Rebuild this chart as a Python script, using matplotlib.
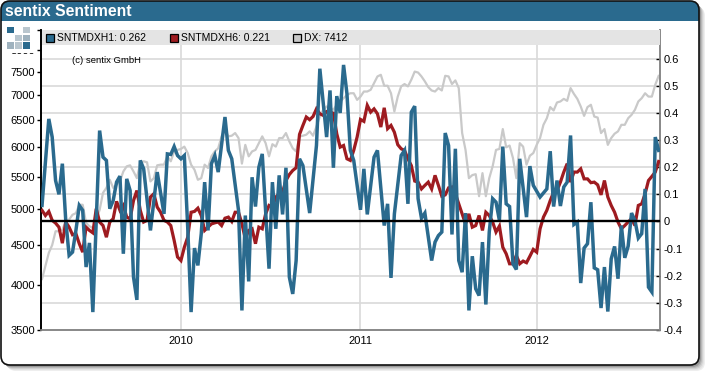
import matplotlib
matplotlib.use("Agg")
import matplotlib.pyplot as plt
from matplotlib.patches import FancyBboxPatch, Rectangle
from matplotlib.ticker import FixedLocator, FixedFormatter, NullLocator
from matplotlib.transforms import blended_transform_factory

plt.rcParams["font.family"] = ["Liberation Sans", "DejaVu Sans"]

## Data ---------------------------------------

blue_weeks = [0,2,3,4,5,6,7,8,9,10,11,12,13,14,15,16,17,18,19,20,21,22,23,24,25,26,27,28,29,30,32,34,36,37,38,39,40,41,42,43,44,45,46,47,48,49,50,51,52,54,55,56,58,59,60,61,
              62,63,64,65,67,68,69,70,71,72,73,74,75,76,77,79,81,82,84,85,86,87,88,89,90,91,92,94,95,96,98,99,101,102,103,104,106,107,108,109,110,111,112,113,115,116,117,118,119,120,121,122,
              123,124,125,126,127,128,129,130,131,132,133,134,135,136,137,138,139,140,141,143,144,145,147,149,150,151,152,153,154,155,156,157,158,159,160,161,162,163,164,165,166,167,168,169,170,171,172,173,174,175,176,177,178,179,180,181,182]
sntmdxh1 = [.059,.378,.311,.151,.100,.213,.004,-.125,-.113,-.033,.059,.041,-.168,-.079,-.334,.004,.335,.237,.225,.047,.077,.145,.167,-.119,.157,.114,-.205,-.289,.225,.194,-.033,.182,.028,.249,.247,.276,.243,.231,.243,-.021,-.334,-.098,-.162,-.045,.145,-.033,.213,.243,.182,.385,.262,.231,.041,-.328,.022,-.221,
            .163,.055,.200,.249,-.174,.145,-.027,.170,.026,.198,-.205,-.267,-.144,.231,.206,.031,.280,.563,.311,.483,.198,.462,.400,.577,.471,.262,.225,.043,.194,.026,.237,.262,-.015,.065,-.208,.028,.243,.262,.065,.403,.425,.084,.012,.031,-.144,-.076,-.052,-.039,.326,.280,-.048,.268,
            -.144,-.187,.031,-.328,-.128,-.248,-.273,-.076,-.306,-.039,.084,.071,.004,.276,.065,.055,-.156,-.177,.231,.016,.204,.133,.090,.120,.259,.055,.151,.057,.127,.145,.317,-.011,-.002,-.227,-.098,-.082,.071,-.171,-.178,-.319,-.168,-.332,-.138,-.092,-.211,-.015,-.134,-.091,.031,.004,-.061,-.045,.120,-.242,-.260,.311,.262]

sntmdxh6 = [.041,.022,.037,.004,-.006,-.021,-.080,-.002,-.021,-.049,-.045,-.082,-.113,-.021,-.033,-.042,.047,-.002,-.015,-.058,-.002,.010,.074,.041,.059,.016,.010,.077,.114,.041,-.002,.004,.090,.102,.053,.034,.004,-.002,-.015,-.070,-.131,-.144,-.095,-.058,.034,.037,.049,.022,-.033,-.021,-.009,-.005,-.002,-.015,.012,.016,0,.034,.034,-.009,-.064,-.033,
            -.027,-.082,-.021,-.027,.028,.059,.053,.090,.102,.108,.151,.173,.188,.198,.321,.354,.385,.375,.387,.415,.397,.391,.405,.403,.399,.323,.274,.280,.231,.225,.262,.311,.376,.369,.428,.403,.415,.397,.348,.419,.342,.354,.329,.283,.268,.262,.231,.206,.149,.145,.120,.133,.145,.120,.170,.133,.093,.098,.124,.127,.102,
            .065,.028,-.009,.028,-.021,-.015,.022,-.033,.034,.022,-.002,-.039,-.017,-.095,-.119,-.156,-.156,-.125,-.156,-.146,-.152,-.128,-.103,-.113,-.027,.016,.041,.077,.108,.114,.145,.182,.213,.145,.182,.182,.194,.157,.157,.143,.145,.135,.098,.151,.090,.059,.034,-.002,-.027,-.015,-.002,.010,-.015,.059,.065,.102,.151,.166,.182,.221]

dx = [4069,4227,4395,4498,4685,4685,4708,4825,4849,4919,4942,5066,5066,4802,4755,4732,4849,4989,5248,5325,5454,5325,5377,5428,5590,5675,5692,5590,5480,5732,5760,5743,5428,5480,5692,5703,5703,5845,5760,5930,5957,5974,6015,5901,5703,5619,5454,5480,5703,5647,5845,5930,5986,6200,6323,6200,6212,6261,6169,5721,6046,5845,
      5930,5957,6077,6200,6077,5845,6058,6015,6169,6169,6261,6108,5986,5930,6200,6212,6231,6292,6212,6384,6574,6706,6773,6740,6706,6806,6873,6940,7006,7042,7042,6906,6973,7078,7078,7114,7257,7400,7436,7200,7200,7042,6673,6973,7186,7236,7186,7329,7507,7486,7400,7293,7171,7100,7078,7150,7100,7414,7400,7236,7314,
      7150,6261,5957,5480,5530,5545,5196,5562,5196,5480,5675,5957,5974,6335,6003,6034,5816,5480,6077,6015,5703,5856,5901,6046,6169,6415,6541,6760,6693,6853,6873,6926,6886,7150,7028,6926,6773,6587,6760,6806,6574,6554,6261,6335,6046,6169,6249,6292,6415,6415,6541,6607,6706,6873,6940,7042,6973,6973,7221,7412]

all_weeks = list(range(len(dx)))

year_weeks = [41.1, 94.0, 146.1]
year_labels = ["2010", "2011", "2012"]
left_ticks = [3500, 4000, 4500, 5000, 5500, 6000, 6500, 7000, 7500, 8000, 8488]
left_labels = ["3500", "4000", "4500", "5000", "5500", "6000", "6500", "7000", "7500", "8000", ""]
right_ticks = [-.4, -.3, -.2, -.1, 0, .1, .2, .3, .4, .5, .6]
right_labels = ["-0.4", "-0.3", "-0.2", "-0.1", "0", "0.1", "0.2", "0.3", "0.4", "0.5", "0.6"]

BLUE = "#2a6a8e"
RED = "#9e1b20"
GREY = "#c9c9c9"
GRID = "#d9d9d9"
W, H = 710, 376

## Frame --------------------------------------

fig = plt.figure(figsize=(W / 100, H / 100), dpi=100, facecolor="white")

bg = fig.add_axes([0, 0, 1, 1], zorder=0)
bg.set_xlim(0, W)
bg.set_ylim(H, 0)
bg.axis("off")

box = dict(boxstyle="round,pad=0,rounding_size=9")
for off, col in [(6, "#eeeeee"), (5, "#e2e2e2"), (4, "#d0d0d0"), (3, "#b8b8b8"), (2, "#9a9a9a")]:
    bg.add_patch(FancyBboxPatch((1 + off, 1 + off), 698, 364, fc=col, ec="none", **box))
frame = FancyBboxPatch((1, 1), 698, 364, fc="white", ec="none", **box)
bg.add_patch(frame)
header = Rectangle((0, 0), W, 20.5, fc=BLUE, ec="none")
bg.add_patch(header)
header.set_clip_path(frame)
bg.add_patch(FancyBboxPatch((1, 1), 698, 364, fc="none", ec="#111111", lw=1.2, **box))
bg.text(5, 11.5, "sentix Sentiment", color="white", fontsize=11.3, fontweight="bold", va="center", ha="left")

## Axes ---------------------------------------

rect = [40.5 / W, 1 - 330 / H, 619.5 / W, 300 / H]
ax = fig.add_axes(rect, zorder=1)
ax.patch.set_alpha(0)
ax2 = ax.twinx()
ax2.set_zorder(2)

ax.set_xlim(-0.45, 182.4)
ax.set_yscale("log")
ax.set_ylim(3500, 8488)
ax2.set_ylim(-.4, .7057)

line_grid = blended_transform_factory(ax.transAxes, ax2.transData)
for v in right_ticks[1:]:
    ax.plot([0, 1], [v, v], color=GRID, lw=1.2, transform=line_grid, zorder=1)
for w in year_weeks:
    ax.axvline(w, color=GRID, lw=1.2, zorder=1)

ax.plot(all_weeks, dx, color=GREY, lw=1.6, zorder=2)
ax2.plot(all_weeks, sntmdxh6, color=RED, lw=2.3, zorder=3, solid_joinstyle="miter")
ax2.plot(blue_weeks, sntmdxh1, color=BLUE, lw=2.5, zorder=4, solid_joinstyle="miter")
ax2.axhline(0, color="black", lw=1.7, zorder=5)

ax.yaxis.set_major_locator(FixedLocator(left_ticks))
ax.yaxis.set_major_formatter(FixedFormatter(left_labels))
ax.yaxis.set_minor_locator(NullLocator())
ax.xaxis.set_major_locator(FixedLocator(year_weeks))
ax.xaxis.set_major_formatter(FixedFormatter(year_labels))
ax.tick_params(axis="y", labelsize=8, length=3, width=1, color="black", pad=1)
ax.tick_params(axis="x", labelsize=8, length=0, pad=4.5)

ax2.yaxis.set_major_locator(FixedLocator(right_ticks))
ax2.yaxis.set_major_formatter(FixedFormatter(right_labels))
ax2.tick_params(axis="y", direction="in", labelsize=8, length=3, width=1, color="black", pad=2.5)

for a in (ax, ax2):
    a.spines["top"].set_visible(False)
    a.spines["left"].set_color("black")
    a.spines["left"].set_linewidth(1.2)
    a.spines["right"].set_color("#888888")
    a.spines["right"].set_linewidth(1.2)
    a.spines["bottom"].set_color("#888888")
    a.spines["bottom"].set_linewidth(1.2)

## Legend, logo, copyright --------------------

top = fig.add_axes([0, 0, 1, 1], zorder=5)
top.set_xlim(0, W)
top.set_ylim(H, 0)
top.axis("off")

top.add_patch(Rectangle((41.5, 30), 618.5, 15, fc="#e4e4e4", ec="none"))
legend_items = [(45, BLUE, "SNTMDXH1: 0.262"), (169, RED, "SNTMDXH6: 0.221"), (292, GREY, "DX: 7412")]
for x, col, label in legend_items:
    top.add_patch(Rectangle((x + 0.5, 33.5), 8, 8, fc=col, ec="black", lw=0.9))
    top.text(x + 12, 38, label, fontsize=7.5, va="center", ha="left", color="black")

top.text(72.5, 60.5, "(c) sentix GmbH", fontsize=6.8, va="center", ha="left", color="black")

# white logo block hides most of the top tick label
top.add_patch(Rectangle((4, 21.5), 31.5, 31, fc="white", ec="none"))
logo_cells = [(7, 26.5, BLUE), (23, 26.5, "#b9c6ce"), (15, 34.5, "#b9c6ce"), (23, 34.5, "#9fb2be"),
              (7, 42, "#9fb2be"), (15, 42, "#b9c6ce"), (23, 42, BLUE)]
for x, y, col in logo_cells:
    top.add_patch(Rectangle((x, y), 6.5, 6.5, fc=col, ec="none"))

fig.savefig("out.png", dpi=100)
